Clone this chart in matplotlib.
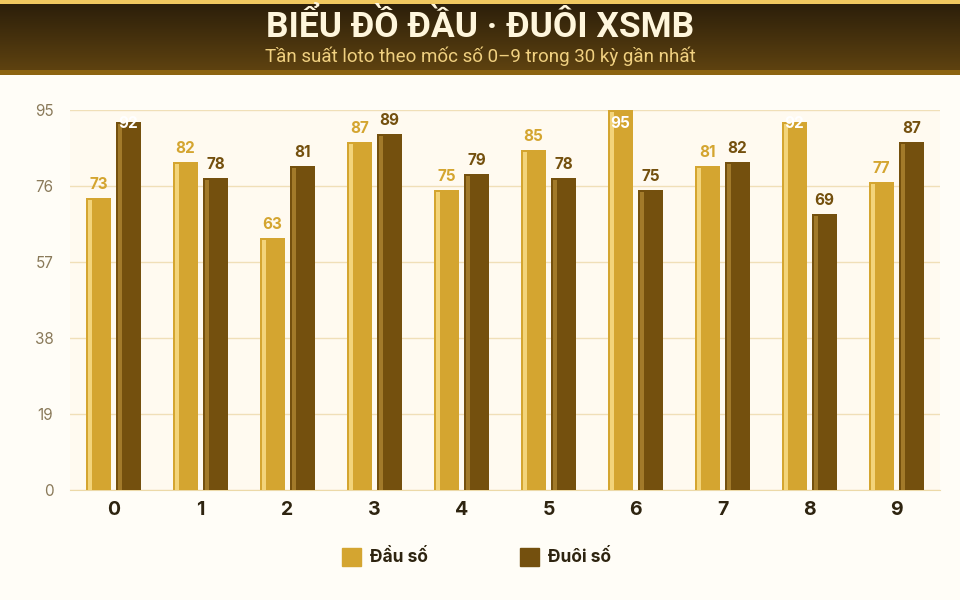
import numpy as np
import matplotlib
matplotlib.use("Agg")
import matplotlib.pyplot as plt
from matplotlib.patches import Rectangle

digits = ["0", "1", "2", "3", "4", "5", "6", "7", "8", "9"]
dau = [73, 82, 63, 87, 75, 85, 95, 81, 92, 77]
duoi = [92, 78, 81, 89, 79, 78, 75, 82, 69, 87]
yticks = [0, 19, 38, 57, 76, 95]

title = "BIỂU ĐỒ ĐẦU · ĐUÔI XSMB"
subtitle = "Tần suất loto theo mốc số 0–9 trong 30 kỳ gần nhất"

c_dau = "#d4a530"
c_dau_hi = "#f3d47a"
c_duoi = "#74500e"
c_duoi_hi = "#a27a2a"
c_text = "#2e2410"
inter = ['Inter', 'DejaVu Sans']

plt.rcParams['font.family'] = ['Roboto', 'DejaVu Sans']

fig = plt.figure(figsize=(9.6, 6), dpi=100, facecolor="#fffdf7")

# header band with gradient
hdr = fig.add_axes([0, 1 - 75 / 600, 1, 75 / 600])
hdr.set_xlim(0, 1)
hdr.set_ylim(0, 75)
hdr.axis("off")
top = np.array([0x2c, 0x1f, 0x0a]) / 255
bot = np.array([0x5e, 0x42, 0x10]) / 255
t = np.linspace(0, 1, 100)[:, None]
grad = (top * (1 - t) + bot * t)[:, None, :]
hdr.imshow(grad, extent=[0, 1, 5, 71], aspect="auto", origin="upper")
hdr.add_patch(Rectangle((0, 71), 1, 4, color="#f0c860", lw=0))
hdr.add_patch(Rectangle((0, 0), 1, 5, color="#8c6410", lw=0))
hdr.text(0.5, 48, title, ha="center", va="center", color="#fff6dc",
         fontsize=25.5, fontweight="bold")
hdr.text(0.5, 19, subtitle, ha="center", va="center", color="#f0d080",
         fontsize=13.5)

ax = fig.add_axes([70 / 960, 110 / 600, 870 / 960, 380 / 600])
ax.set_facecolor("#fffaf0")
x = np.arange(len(digits))
w = 0.287
off = 0.172
px = 1 / 87

for vals, sign, col, hi, lcol in [(dau, -1, c_dau, c_dau_hi, c_dau),
                                  (duoi, 1, c_duoi, c_duoi_hi, c_duoi)]:
    xs = x + sign * off
    ax.bar(xs, vals, width=w, color=col, zorder=3)
    ax.bar(xs - w / 2 + 2 * px, np.array(vals) - 0.5, width=4 * px,
           align="edge", color=hi, zorder=4)
    for xi, v in zip(xs, vals):
        if v >= 90:
            ax.text(xi, 91.6, str(v), ha="center", va="center", color="white",
                    fontsize=11, fontweight="bold", family=inter, zorder=5)
        else:
            ax.annotate(str(v), (xi, v), xytext=(0, 4), textcoords="offset points",
                        ha="center", va="bottom", color=lcol, family=inter,
                        fontsize=11, fontweight="bold", zorder=5)

ax.set_xlim(-0.5, 9.5)
ax.set_ylim(0, 95)
ax.set_yticks(yticks)
ax.set_xticks(x)
ax.set_xticklabels(digits, fontsize=14, fontweight="bold", color=c_text,
                   family=inter)
for lb in ax.get_yticklabels():
    lb.set_family(inter)
ax.tick_params(axis="x", length=0, pad=8)
ax.tick_params(axis="y", length=0, pad=12, labelsize=11, labelcolor="#8a7a5a")
ax.grid(axis="y", color="#f0dfb8", lw=1, zorder=0)
for s in ["top", "right", "left"]:
    ax.spines[s].set_visible(False)
ax.spines["bottom"].set_color("#ecd9a8")

# legend
fig.patches.append(Rectangle((342 / 960, 1 - 566 / 600), 19 / 960, 18 / 600,
                             transform=fig.transFigure, color=c_dau))
fig.text(370 / 960, 1 - 557 / 600, "Đầu số", fontsize=12.5, fontweight="bold",
         color=c_text, va="center", family=inter)
fig.patches.append(Rectangle((520 / 960, 1 - 566 / 600), 19 / 960, 18 / 600,
                             transform=fig.transFigure, color=c_duoi))
fig.text(548 / 960, 1 - 557 / 600, "Đuôi số", fontsize=12.5, fontweight="bold",
         color=c_text, va="center", family=inter)

fig.savefig("out.png", dpi=100, facecolor=fig.get_facecolor())
